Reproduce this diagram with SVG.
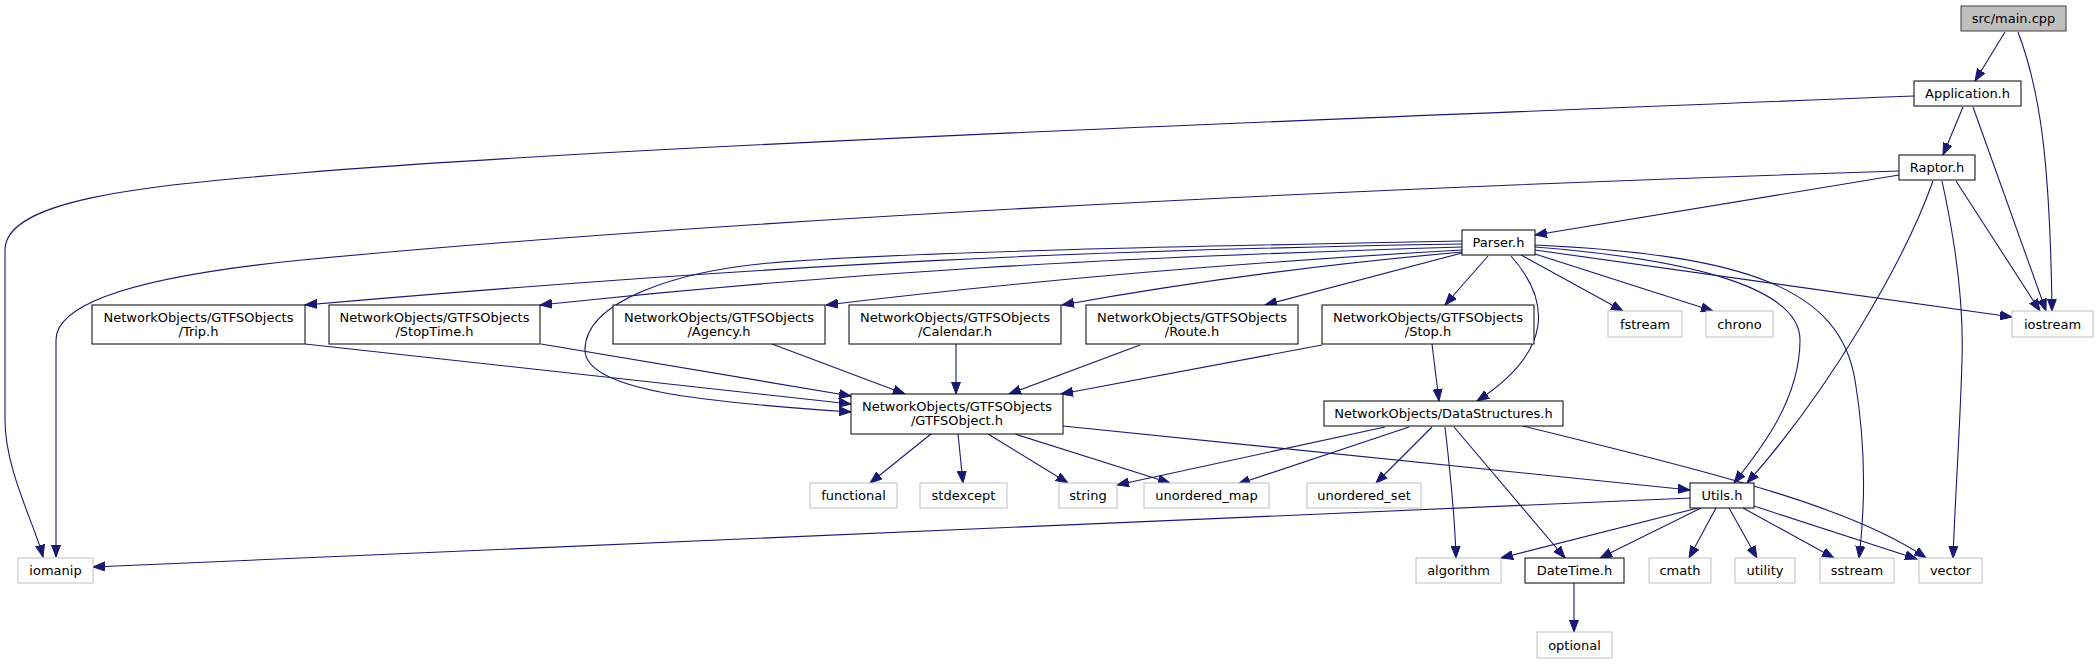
<svg xmlns="http://www.w3.org/2000/svg" width="2097" height="664" viewBox="0 0 2097 664">
<style>
.n rect{fill:#ffffff;stroke:#000000;stroke-width:1}
.s rect{fill:#ffffff;stroke:#bfbfbf;stroke-width:1}
.r rect{fill:#bfbfbf;stroke:#404040;stroke-width:1}
text{font-family:"DejaVu Sans","Liberation Sans",sans-serif;font-size:13px;fill:#000000;text-anchor:middle}
#edges path{fill:none;stroke:#191970;stroke-width:1.1;marker-end:url(#arr)}
</style>
<defs>
<marker id="arr" markerWidth="14" markerHeight="10" refX="12" refY="5" orient="auto" markerUnits="userSpaceOnUse">
<path d="M0,0.5 L12,5 L0,9.5 Z" fill="#191970" stroke="#191970" stroke-width="1"/>
</marker>
</defs>
<rect x="0" y="0" width="2097" height="664" fill="#ffffff"/>
<g id="edges">
<path d="M2005,32 L1975,81"/>
<path d="M2018,32 C2040,90 2050,160 2052,311"/>
<path d="M1963,107 L1943,155"/>
<path d="M1914,96 C1200,124 600,148 300,173 C140,186 5,200 5,250 L5,420 C5,470 35,525 43,557"/>
<path d="M1973,107 L2046,311"/>
<path d="M1899,175 L1535,235"/>
<path d="M1899,171 C1300,190 700,222 302,260 C150,275 56,300 56,340 L56,557"/>
<path d="M1956,181 L2040,311"/>
<path d="M1942,181 C1955,240 1964,300 1962,360 C1960,430 1955,500 1953,558"/>
<path d="M1933,181 C1905,260 1830,390 1747,483"/>
<path d="M1462,241 C1200,246 900,252 770,263 C680,271 585,300 585,350 C585,390 700,402 851,412"/>
<path d="M1462,244 C1100,250 800,262 305,305"/>
<path d="M1462,247 C1100,258 850,272 540,305"/>
<path d="M1462,250 C1250,262 1050,278 826,305"/>
<path d="M1462,252 C1350,262 1200,280 1062,305"/>
<path d="M1462,253 L1265,305"/>
<path d="M1488,256 L1445,305"/>
<path d="M1511,256 C1550,300 1555,350 1477,401"/>
<path d="M1521,255 L1623,311"/>
<path d="M1535,254 L1713,311"/>
<path d="M1535,250 L2012,317"/>
<path d="M1535,247 C1700,260 1800,290 1800,340 C1800,400 1760,450 1734,483"/>
<path d="M1535,245 C1750,255 1840,290 1855,380 C1865,440 1866,500 1859,558"/>
<path d="M305,344 L851,404"/>
<path d="M541,344 L851,396"/>
<path d="M772,344 L905,394"/>
<path d="M956,344 L956,394"/>
<path d="M1140,345 L1009,394"/>
<path d="M1322,345 L1061,394"/>
<path d="M1432,344 L1439,401"/>
<path d="M931,434 L870,483"/>
<path d="M958,434 L963,483"/>
<path d="M988,434 L1068,483"/>
<path d="M1015,434 L1170,483"/>
<path d="M1063,426 L1690,490"/>
<path d="M1385,427 L1117,485"/>
<path d="M1409,427 L1238,484"/>
<path d="M1432,427 L1376,483"/>
<path d="M1445,427 C1450,470 1455,520 1456,558"/>
<path d="M1454,427 L1565,558"/>
<path d="M1523,426 C1700,470 1850,505 1926,558"/>
<path d="M1691,498 L93,567"/>
<path d="M1698,508 L1501,558"/>
<path d="M1701,508 L1600,558"/>
<path d="M1716,508 L1689,558"/>
<path d="M1729,508 L1757,558"/>
<path d="M1743,508 L1834,558"/>
<path d="M1754,506 L1917,559"/>
<path d="M1574,583 L1574,632"/>
</g>
<g id="main" class="r"><rect x="1961" y="6" width="105" height="25"/><text x="2013.5" y="23">src/main.cpp</text></g>
<g id="application" class="n"><rect x="1914" y="81" width="107" height="25"/><text x="1967.5" y="98">Application.h</text></g>
<g id="raptor" class="n"><rect x="1899" y="155" width="76" height="25"/><text x="1937" y="172">Raptor.h</text></g>
<g id="parser" class="n"><rect x="1462" y="230" width="73" height="25"/><text x="1498.5" y="247">Parser.h</text></g>
<g id="trip" class="n"><rect x="92" y="305" width="213" height="39"/><text x="198.5" y="321.5">NetworkObjects/GTFSObjects</text><text x="198.5" y="335.5">/Trip.h</text></g>
<g id="stoptime" class="n"><rect x="329" y="305" width="211" height="39"/><text x="434.5" y="321.5">NetworkObjects/GTFSObjects</text><text x="434.5" y="335.5">/StopTime.h</text></g>
<g id="agency" class="n"><rect x="613" y="305" width="212" height="39"/><text x="719" y="321.5">NetworkObjects/GTFSObjects</text><text x="719" y="335.5">/Agency.h</text></g>
<g id="calendar" class="n"><rect x="849" y="305" width="212" height="39"/><text x="955" y="321.5">NetworkObjects/GTFSObjects</text><text x="955" y="335.5">/Calendar.h</text></g>
<g id="route" class="n"><rect x="1086" y="305" width="212" height="39"/><text x="1192" y="321.5">NetworkObjects/GTFSObjects</text><text x="1192" y="335.5">/Route.h</text></g>
<g id="stop" class="n"><rect x="1322" y="305" width="212" height="39"/><text x="1428" y="321.5">NetworkObjects/GTFSObjects</text><text x="1428" y="335.5">/Stop.h</text></g>
<g id="fstream" class="s"><rect x="1608" y="311" width="74" height="26"/><text x="1645" y="328.5">fstream</text></g>
<g id="chrono" class="s"><rect x="1706" y="311" width="67" height="26"/><text x="1739.5" y="328.5">chrono</text></g>
<g id="iostream" class="s"><rect x="2012" y="311" width="81" height="26"/><text x="2052.5" y="328.5">iostream</text></g>
<g id="gtfsobject" class="n"><rect x="851" y="394" width="212" height="40"/><text x="957" y="411">NetworkObjects/GTFSObjects</text><text x="957" y="425">/GTFSObject.h</text></g>
<g id="datastructures" class="n"><rect x="1324" y="401" width="239" height="25"/><text x="1443.5" y="418">NetworkObjects/DataStructures.h</text></g>
<g id="functional" class="s"><rect x="810" y="483" width="87" height="25"/><text x="853.5" y="500">functional</text></g>
<g id="stdexcept" class="s"><rect x="920" y="483" width="87" height="25"/><text x="963.5" y="500">stdexcept</text></g>
<g id="string" class="s"><rect x="1059" y="483" width="58" height="25"/><text x="1088" y="500">string</text></g>
<g id="unordered_map" class="s"><rect x="1144" y="483" width="125" height="25"/><text x="1206.5" y="500">unordered_map</text></g>
<g id="unordered_set" class="s"><rect x="1307" y="483" width="114" height="25"/><text x="1364" y="500">unordered_set</text></g>
<g id="utils" class="n"><rect x="1690" y="483" width="64" height="25"/><text x="1722" y="500">Utils.h</text></g>
<g id="iomanip" class="s"><rect x="18" y="558" width="75" height="25"/><text x="55.5" y="575">iomanip</text></g>
<g id="algorithm" class="s"><rect x="1416" y="558" width="85" height="25"/><text x="1458.5" y="575">algorithm</text></g>
<g id="datetime" class="n"><rect x="1525" y="558" width="99" height="25"/><text x="1574.5" y="575">DateTime.h</text></g>
<g id="cmath" class="s"><rect x="1649" y="558" width="62" height="25"/><text x="1680" y="575">cmath</text></g>
<g id="utility" class="s"><rect x="1735" y="558" width="60" height="25"/><text x="1765" y="575">utility</text></g>
<g id="sstream" class="s"><rect x="1820" y="558" width="74" height="25"/><text x="1857" y="575">sstream</text></g>
<g id="vector" class="s"><rect x="1919" y="558" width="63" height="25"/><text x="1950.5" y="575">vector</text></g>
<g id="optional" class="s"><rect x="1537" y="632" width="75" height="26"/><text x="1574.5" y="649.5">optional</text></g>
</svg>
